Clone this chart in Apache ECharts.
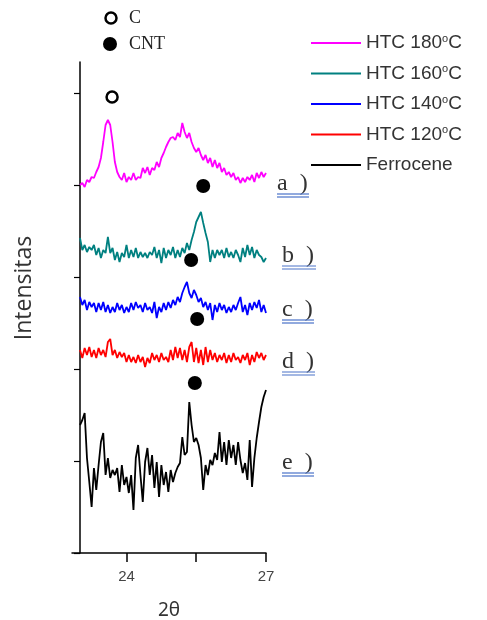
<!DOCTYPE html>
<html>
<head>
<meta charset="utf-8">
<script src="https://cdn.jsdelivr.net/npm/echarts@6/dist/echarts.min.js"></script>
<style>
  html, body { margin: 0; padding: 0; background: #fff; }
  #chart { width: 487px; height: 620px; }
</style>
</head>
<body>
<div id="chart"></div>
<script>
// 2 theta sampling positions (degrees)
var twoTheta = [
  23.00, 23.05, 23.10, 23.15, 23.20, 23.25, 23.30, 23.35, 23.40, 23.45,
  23.50, 23.55, 23.60, 23.65, 23.70, 23.75, 23.80, 23.85, 23.90, 23.95,
  24.00, 24.05, 24.10, 24.15, 24.20, 24.25, 24.30, 24.35, 24.40, 24.45,
  24.50, 24.55, 24.60, 24.65, 24.70, 24.75, 24.80, 24.85, 24.90, 24.95,
  25.00, 25.05, 25.10, 25.15, 25.20, 25.25, 25.30, 25.35, 25.40, 25.45,
  25.50, 25.55, 25.60, 25.65, 25.70, 25.75, 25.80, 25.85, 25.90, 25.95,
  26.00, 26.05, 26.10, 26.15, 26.20, 26.25, 26.30, 26.35, 26.40, 26.45,
  26.50, 26.55, 26.60, 26.65, 26.70, 26.75, 26.80, 26.85, 26.90, 26.95,
  27.00
];

// intensities (stacked, arbitrary units)
var htc180 = [
  368, 370, 366, 373, 371, 376, 375, 381, 386, 395,
  411, 428, 433, 428, 411, 391, 381, 376, 373, 380,
  371, 376, 373, 380, 373, 376, 375, 385, 380, 386,
  378, 385, 383, 391, 386, 395, 400, 406, 411, 415,
  416, 413, 420, 416, 430, 421, 415, 420, 411, 405,
  401, 405, 398, 393, 398, 390, 395, 386, 393, 385,
  390, 381, 385, 378, 381, 376, 380, 373, 376, 370,
  375, 371, 376, 373, 378, 371, 380, 375, 381, 376,
  380
];
var htc160 = [
  315, 303, 308, 301, 306, 303, 308, 298, 305, 295,
  303, 300, 316, 300, 305, 293, 301, 291, 300, 296,
  308, 295, 303, 296, 305, 295, 301, 296, 300, 295,
  301, 298, 306, 295, 303, 290, 305, 295, 303, 298,
  306, 295, 303, 296, 305, 300, 310, 303, 313, 321,
  331, 336, 341, 330, 320, 311, 291, 303, 295, 303,
  298, 303, 295, 305, 296, 301, 295, 303, 298, 291,
  305, 296, 308, 298, 306, 295, 303, 298, 296, 291,
  295
];
var htc140 = [
  256, 248, 253, 243, 251, 246, 250, 241, 250, 243,
  251, 241, 248, 240, 246, 241, 250, 243, 248, 240,
  246, 241, 250, 243, 251, 245, 248, 241, 250, 243,
  246, 240, 251, 235, 246, 241, 250, 243, 251, 245,
  253, 248, 256, 251, 260, 266, 271, 260, 255, 263,
  258, 251, 255, 246, 251, 243, 250, 233, 248, 241,
  250, 243, 248, 240, 246, 241, 248, 243, 250, 256,
  241, 248, 238, 250, 243, 251, 245, 253, 241, 248,
  240
];
var htc120 = [
  203, 195, 205, 198, 206, 196, 203, 195, 205, 198,
  203, 196, 211, 214, 198, 203, 195, 201, 196, 200,
  191, 198, 191, 196, 190, 198, 191, 196, 186, 195,
  190, 200, 193, 198, 191, 200, 193, 196, 191, 203,
  193, 206, 195, 205, 193, 203, 191, 206, 211, 191,
  205, 190, 203, 188, 206, 191, 203, 193, 200, 191,
  198, 193, 200, 190, 198, 191, 200, 193, 196, 190,
  198, 193, 200, 188, 198, 191, 201, 195, 200, 193,
  198
];
var ferrocene = [
  128, 133, 140, 95, 71, 46, 85, 63, 88, 111,
  120, 78, 95, 75, 83, 78, 85, 61, 88, 68,
  76, 60, 78, 43, 95, 108, 78, 51, 91, 105,
  78, 98, 65, 91, 56, 88, 68, 81, 61, 83,
  71, 80, 86, 90, 116, 98, 101, 151, 128, 111,
  115, 108, 95, 63, 88, 78, 93, 88, 100, 93,
  121, 91, 111, 88, 113, 95, 108, 88, 111, 93,
  80, 90, 73, 113, 66, 95, 115, 131, 146, 156,
  163
];

// phase markers [2theta, intensity]
var carbonMarks = [[23.69, 456]];
var cntMarks = [[25.65, 367], [25.39, 293], [25.52, 234], [25.47, 170]];

var seriesNames = ['HTC 180°C', 'HTC 160°C', 'HTC 140°C', 'HTC 120°C', 'Ferrocene'];
var seriesColors = ['#ff00ff', '#008080', '#0000ff', '#ff0000', '#000000'];
var seriesData = [htc180, htc160, htc140, htc120, ferrocene];

var xTicks = [24, 25.5, 27];
var xLabels = [24, 27];
var yTicks = [0, 92, 184, 276, 368, 460];

// sample labels on the right
var sampleLabels = [
  { text: 'a  )', x: 277, base: 191, x2: 309, uy: 194 },
  { text: 'b  )', x: 282, base: 263, x2: 316, uy: 266 },
  { text: 'c  )', x: 282, base: 317, x2: 314, uy: 320 },
  { text: 'd  )', x: 282, base: 369, x2: 315, uy: 372 },
  { text: 'e  )', x: 282, base: 470, x2: 314, uy: 473 }
];

function pairs(values) {
  return values.map(function (v, i) { return [twoTheta[i], v]; });
}

var chart = echarts.init(document.getElementById('chart'));

var series = seriesNames.map(function (name, k) {
  return {
    name: name,
    type: 'line',
    data: pairs(seriesData[k]),
    showSymbol: false,
    symbol: 'none',
    lineStyle: { color: seriesColors[k], width: 1.8 },
    itemStyle: { color: seriesColors[k] },
    z: 2
  };
});

series.push({
  name: 'C',
  type: 'scatter',
  data: carbonMarks,
  symbol: 'circle',
  symbolSize: 11,
  itemStyle: { color: '#fff', borderColor: '#000', borderWidth: 2.5, opacity: 1 },
  z: 5
});
series.push({
  name: 'CNT',
  type: 'scatter',
  data: cntMarks,
  symbol: 'circle',
  symbolSize: 14,
  itemStyle: { color: '#000', opacity: 1 },
  z: 5
});

var graphics = [
  { type: 'circle', shape: { cx: 111, cy: 18, r: 5.5 }, style: { fill: '#fff', stroke: '#000', lineWidth: 2.5 } },
  { type: 'circle', shape: { cx: 110, cy: 44, r: 7 }, style: { fill: '#000' } },
  { type: 'text', x: 129, y: 18, style: { text: 'C', fontSize: 18, fontFamily: 'Liberation Serif', fill: '#222', verticalAlign: 'middle' } },
  { type: 'text', x: 129, y: 44, style: { text: 'CNT', fontSize: 18, fontFamily: 'Liberation Serif', fill: '#222', verticalAlign: 'middle' } },
  {
    type: 'text', x: 24, y: 288, rotation: Math.PI / 2,
    style: { text: 'Intensitas', fontSize: 23, fontFamily: 'Open Sans', fill: '#333', align: 'center', verticalAlign: 'middle' }
  }
];

sampleLabels.forEach(function (s) {
  graphics.push({
    type: 'text', x: s.x, y: s.base + 5,
    style: { text: s.text, fontSize: 24, fontFamily: 'Liberation Serif', fill: '#333', verticalAlign: 'bottom' }
  });
  graphics.push({
    type: 'line', shape: { x1: s.x, y1: s.uy, x2: s.x2, y2: s.uy },
    style: { stroke: '#4a72c8', lineWidth: 1.2 }
  });
  graphics.push({
    type: 'line', shape: { x1: s.x, y1: s.uy + 3, x2: s.x2, y2: s.uy + 3 },
    style: { stroke: '#4a72c8', lineWidth: 1.2 }
  });
});

var option = {
  animation: false,
  backgroundColor: '#fff',
  grid: { left: 72, right: 221, top: 62, bottom: 67, containLabel: false, outerBoundsMode: 'none' },
  legend: {
    data: seriesNames,
    orient: 'vertical',
    left: 311,
    top: 33,
    padding: 0,
    icon: 'rect',
    itemWidth: 50,
    itemHeight: 2,
    itemGap: 10.5,
    formatter: function (name) { return name.replace('°', '{s|o}'); },
    textStyle: {
      fontFamily: 'Liberation Sans',
      fontSize: 19,
      lineHeight: 20,
      color: '#333',
      rich: {
        s: { fontSize: 11, lineHeight: 11, verticalAlign: 'top', color: '#333', fontFamily: 'Liberation Sans' }
      }
    }
  },
  xAxis: {
    type: 'value',
    min: 22.828,
    max: 27,
    name: '2θ',
    nameLocation: 'middle',
    nameGap: 48,
    nameTextStyle: { fontFamily: 'Noto Sans', fontSize: 19, color: '#333' },
    axisLine: { onZero: false, lineStyle: { color: '#000', width: 1.5 } },
    axisTick: { customValues: xTicks, length: 9, lineStyle: { color: '#000', width: 1.5 } },
    axisLabel: { customValues: xLabels, margin: 16, fontFamily: 'Liberation Sans', fontSize: 15, color: '#444' },
    splitLine: { show: false }
  },
  yAxis: {
    type: 'value',
    min: 0,
    max: 491,
    interval: 92,
    offset: -8,
    axisLine: { show: true, onZero: false, lineStyle: { color: '#000', width: 1.5 } },
    axisTick: { show: true, customValues: yTicks, length: 6, lineStyle: { color: '#000', width: 1.2 } },
    axisLabel: { show: false },
    splitLine: { show: false }
  },
  series: series,
  graphic: graphics
};

chart.setOption(option);
</script>
</body>
</html>
